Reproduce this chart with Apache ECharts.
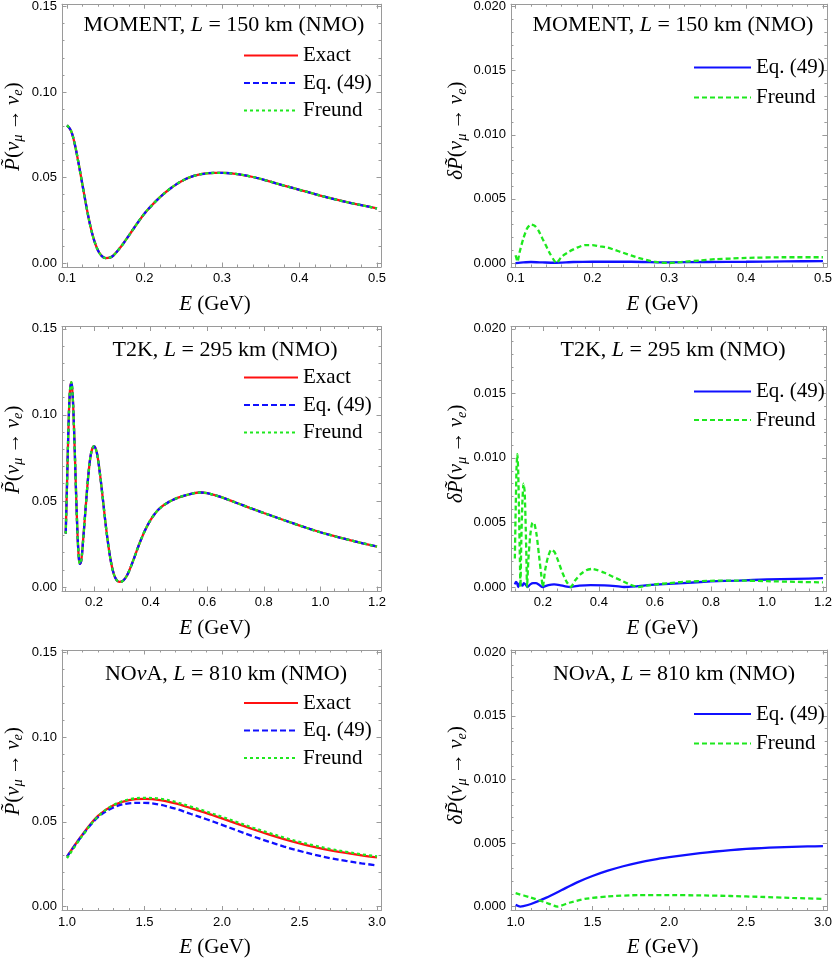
<!DOCTYPE html>
<html>
<head>
<meta charset="utf-8">
<script src="https://cdn.jsdelivr.net/npm/echarts@6/dist/echarts.min.js"></script>
<style>
  html, body { margin: 0; background: #fff; }
  #chart { width: 835px; height: 959px; }
</style>
</head>
<body>
<div id="chart"></div>
<script>
// ---- values (E in GeV) ----

// MOMENT, L = 150 km
const momentE = [0.100, 0.105, 0.110, 0.115, 0.120, 0.125, 0.130, 0.135, 0.140, 0.145, 0.150, 0.155, 0.160,
  0.170, 0.180, 0.190, 0.200, 0.210, 0.220, 0.230, 0.240, 0.250, 0.260, 0.270, 0.280, 0.290, 0.300,
  0.320, 0.340, 0.360, 0.380, 0.400, 0.420, 0.440, 0.460, 0.480, 0.500]
const momentExact = [0.0805, 0.0775, 0.0695, 0.0580, 0.0455, 0.0330, 0.0218, 0.0132, 0.0073, 0.0040, 0.0029, 0.0031, 0.0045,
  0.0098, 0.0162, 0.0228, 0.0290, 0.0340, 0.0385, 0.0424, 0.0457, 0.0484, 0.0504, 0.0517, 0.0524, 0.0527, 0.0527,
  0.0520, 0.0503, 0.0479, 0.0453, 0.0428, 0.0403, 0.0379, 0.0357, 0.0338, 0.0319]
const momentEq49 = momentExact // indistinguishable from Exact at this scale
const momentFreund = momentExact

const momentDiffEqE = [0.100, 0.110, 0.120, 0.135, 0.150, 0.175, 0.200, 0.250, 0.300, 0.350, 0.400, 0.450, 0.500]
const momentDiffEq = [0.00000, 0.00005, 0.00008, 0.00005, 0.00002, 0.00008, 0.00010, 0.00010, 0.00005, 0.00008, 0.00010, 0.00013, 0.00015]
const momentDiffFrE = [0.100, 0.1025, 0.105, 0.110, 0.115, 0.120, 0.125, 0.130, 0.135, 0.140, 0.145, 0.150, 0.153,
  0.160, 0.170, 0.180, 0.190, 0.200, 0.210, 0.220, 0.230, 0.240, 0.250, 0.260, 0.270, 0.280, 0.290, 0.300,
  0.310, 0.320, 0.340, 0.360, 0.380, 0.400, 0.450, 0.500]
const momentDiffFr = [0.0006, 0.0001, 0.0008, 0.0019, 0.0027, 0.0030, 0.0029, 0.0025, 0.0019, 0.0013, 0.0007, 0.0002, 0.0000,
  0.0005, 0.0009, 0.0012, 0.0014, 0.0014, 0.0013, 0.0012, 0.0010, 0.0008, 0.0006, 0.0004, 0.00025, 0.0001, 0.00003, 0.0000,
  0.00005, 0.0001, 0.0002, 0.0003, 0.00035, 0.0004, 0.00045, 0.00045]

// T2K, L = 295 km
const t2kE = [0.100, 0.105, 0.110, 0.115, 0.120, 0.125, 0.130, 0.135, 0.140, 0.145, 0.150, 0.155, 0.160,
  0.170, 0.180, 0.190, 0.200, 0.210, 0.220, 0.230, 0.240, 0.250, 0.260, 0.270, 0.280, 0.290, 0.300,
  0.310, 0.320, 0.340, 0.360, 0.380, 0.400, 0.420, 0.440, 0.460, 0.480, 0.500, 0.550, 0.575, 0.600, 0.650, 0.700, 0.750,
  0.800, 0.850, 0.900, 0.950, 1.000, 1.050, 1.100, 1.150, 1.200]
const t2kExact = [0.031, 0.062, 0.094, 0.114, 0.119, 0.110, 0.089, 0.063, 0.038, 0.020, 0.0135, 0.0155, 0.024,
  0.045, 0.065, 0.078, 0.0818, 0.078, 0.067, 0.053, 0.038, 0.025, 0.0145, 0.0075, 0.0040, 0.0030, 0.0033,
  0.0050, 0.0078, 0.0160, 0.0250, 0.0328, 0.0390, 0.0436, 0.0468, 0.0490, 0.0507, 0.0521, 0.0544, 0.0549, 0.0545, 0.0522, 0.0491, 0.0460,
  0.0430, 0.0401, 0.0372, 0.0344, 0.0318, 0.0295, 0.0274, 0.0254, 0.0235]
const t2kEq49 = t2kExact
const t2kFreund = t2kExact

const t2kDiffEqE = [0.100, 0.104, 0.108, 0.112, 0.117, 0.122, 0.127, 0.132, 0.138, 0.145, 0.155, 0.165, 0.175, 0.185,
  0.198, 0.220, 0.240, 0.260, 0.280, 0.300, 0.330, 0.370, 0.420, 0.460, 0.490, 0.530, 0.600, 0.700, 0.800, 0.900,
  1.000, 1.100, 1.200]
const t2kDiffEq = [0.0002, 0.0004, 0.0003, 0.0000, 0.0003, 0.0002, 0.0001, 0.0003, 0.0002, 0.0000, 0.0002, 0.0003, 0.0003, 0.0002,
  0.0000, 0.00015, 0.0002, 0.00015, 0.00005, 0.0000, 0.0001, 0.00015, 0.00013, 0.00007, 0.0000, 0.00005, 0.00018, 0.0003, 0.00043, 0.0005,
  0.00058, 0.00063, 0.00068]
const t2kDiffFrE = [0.100, 0.103, 0.106, 0.109, 0.112, 0.115, 0.118, 0.120, 0.123, 0.127, 0.131, 0.135, 0.139, 0.142, 0.1435,
  0.148, 0.155, 0.163, 0.170, 0.178, 0.186, 0.194, 0.200, 0.208, 0.218, 0.230, 0.242, 0.255, 0.270, 0.285, 0.300,
  0.315, 0.335, 0.355, 0.375, 0.395, 0.420, 0.450, 0.480, 0.510, 0.540, 0.570, 0.600, 0.650, 0.700, 0.800, 0.900,
  1.000, 1.100, 1.200]
const t2kDiffFr = [0.0022, 0.0060, 0.0092, 0.0103, 0.0090, 0.0058, 0.0022, 0.0000, 0.0035, 0.0066, 0.0080, 0.0074, 0.0045, 0.0015, 0.0000,
  0.0020, 0.0040, 0.0050, 0.0049, 0.0040, 0.0025, 0.0010, 0.0000, 0.0013, 0.0023, 0.0029, 0.0027, 0.0020, 0.0011, 0.0004, 0.0000,
  0.0005, 0.0010, 0.0013, 0.0014, 0.0013, 0.0011, 0.0008, 0.0005, 0.0002, 0.0000, 0.0001, 0.0002, 0.0003, 0.0004, 0.00048, 0.0005,
  0.00045, 0.0004, 0.00036]

// NOvA, L = 810 km
const novaE = [1.0, 1.1, 1.2, 1.3, 1.4, 1.5, 1.6, 1.7, 1.8, 1.9, 2.0, 2.1, 2.2, 2.3, 2.4, 2.5, 2.6, 2.7, 2.8, 2.9, 3.0]
const novaExact = [0.0295, 0.0425, 0.0535, 0.0598, 0.0628, 0.0635, 0.0628, 0.0608, 0.0580, 0.0551, 0.0520,
  0.0488, 0.0456, 0.0426, 0.0398, 0.0373, 0.0351, 0.0332, 0.0316, 0.0302, 0.0290]
const novaEq49 = [0.0294, 0.0422, 0.0527, 0.0584, 0.0609, 0.0612, 0.0601, 0.0577, 0.0546, 0.0515, 0.0482,
  0.0448, 0.0414, 0.0383, 0.0354, 0.0328, 0.0305, 0.0285, 0.0269, 0.0255, 0.0243]
const novaFreund = [0.0285, 0.0419, 0.0532, 0.0599, 0.0632, 0.0641, 0.0636, 0.0617, 0.0589, 0.0560, 0.0529,
  0.0497, 0.0465, 0.0435, 0.0407, 0.0381, 0.0359, 0.0339, 0.0323, 0.0308, 0.0296]

const novaDiffEqE = [1.00, 1.03, 1.05, 1.10, 1.20, 1.30, 1.40, 1.50, 1.60, 1.70, 1.80, 1.90, 2.00, 2.10, 2.20, 2.30,
  2.40, 2.50, 2.60, 2.70, 2.80, 2.90, 3.00]
const novaDiffEq = [0.00013, 0.0000, 0.00003, 0.0002, 0.0007, 0.0013, 0.0019, 0.0024, 0.00282, 0.00317, 0.00346, 0.00369, 0.00388,
  0.00405, 0.0042, 0.00433, 0.00444, 0.00453, 0.0046, 0.00466, 0.0047, 0.00473, 0.00475]
const novaDiffFrE = [1.00, 1.10, 1.20, 1.27, 1.35, 1.45, 1.60, 1.80, 2.00, 2.20, 2.40, 2.60, 2.80, 3.00]
const novaDiffFr = [0.00105, 0.0007, 0.0003, 0.0000, 0.0003, 0.0006, 0.0008, 0.0009, 0.0009, 0.00088, 0.00083, 0.00076, 0.00068, 0.0006]

// ---- tick positions and labels ----
const steps = (a, b, d) => {
  const out = []
  for (let v = a; v <= b + d / 2; v += d) out.push(+v.toFixed(4))
  return out
}
const probTicks = [0, 0.05, 0.1, 0.15]
const probMinor = steps(0, 0.15, 0.01)
const diffTicks = [0, 0.005, 0.01, 0.015, 0.02]
const diffMinor = steps(0, 0.02, 0.001)
const momentTicks = [0.1, 0.2, 0.3, 0.4, 0.5]
const momentMinor = steps(0.1, 0.5, 0.02)
const t2kTicks = [0.2, 0.4, 0.6, 0.8, 1.0, 1.2]
const t2kMinor = steps(0.1, 1.2, 0.05)
const novaTicks = [1.0, 1.5, 2.0, 2.5, 3.0]
const novaMinor = steps(1.0, 3.0, 0.1)

// ---- styling ----
const SERIF = '"Liberation Serif", "Times New Roman", serif'
const SANS = '"Liberation Sans", Arial, sans-serif'
const FRAME = '#9a9a9a'
const RED = '#ff1010'
const BLUE = '#1010ff'
const GREEN = '#1ee81e'

const MATH = {
  r: { fontFamily: SERIF, fontSize: 21, lineHeight: 26, color: '#000' },
  i: { fontFamily: SERIF, fontSize: 21, lineHeight: 26, fontStyle: 'italic', color: '#000' },
  s: { fontFamily: SERIF, fontSize: 14.5, lineHeight: 16, fontStyle: 'italic', color: '#000', verticalAlign: 'bottom' },
  // blank spacers: the axis titles sit a little off the frame's middle, as in the original
  g1: { fontSize: 20, lineHeight: 26, width: 18 },
  g2: { fontSize: 20, lineHeight: 26, width: 10 },
  gx: { fontSize: 20, lineHeight: 26, width: 13 },
}
const TITLE_RICH = {
  r: { fontFamily: SERIF, fontSize: 22, lineHeight: 22, fontWeight: 'normal', color: '#000' },
  i: { fontFamily: SERIF, fontSize: 22, lineHeight: 22, fontWeight: 'normal', fontStyle: 'italic', color: '#000' },
}

const xName = '{i|E}{r| (GeV)}{gx| }'
const pName = '{g1| }{i|P\u0303}{r|(}{i|ν}{s|μ}{r|\u2009→\u2009}{i|ν}{s|e}{r|)}'
const dName = '{g2| }{i|δP\u0303}{r|(}{i|ν}{s|μ}{r|\u2009→\u2009}{i|ν}{s|e}{r|)}'

const pair = (xs, ys) => xs.map((x, k) => [x, ys[k]])

const probY = { min: -0.00233, max: 0.15134, major: probTicks, minor: probMinor, digits: 2, name: pName, gap: 36 }
const diffY = { min: -0.00031, max: 0.02018, major: diffTicks, minor: diffMinor, digits: 3, name: dName, gap: 40 }

const panels = [
  {
    rect: [62, 3, 319, 264],
    x: { min: 0.0935, max: 0.5052, major: momentTicks, minor: momentMinor, digits: 1 },
    y: probY,
    title: { text: '{r|MOMENT, }{i|L}{r| = 150 km (NMO)}', cx: 224, cy: 24 },
    legend: { left: 243, top: 45, w: 54, gap: 6.5 },
    series: [
      { name: 'Exact', e: momentE, v: momentExact, color: RED, type: 'solid' },
      { name: 'Eq. (49)', e: momentE, v: momentEq49, color: BLUE, type: [6, 3] },
      { name: 'Freund', e: momentE, v: momentFreund, color: GREEN, type: [3, 3] },
    ],
  },
  {
    rect: [511, 3, 320, 264],
    x: { min: 0.094, max: 0.5051, major: momentTicks, minor: momentMinor, digits: 1 },
    y: diffY,
    title: { text: '{r|MOMENT, }{i|L}{r| = 150 km (NMO)}', cx: 673, cy: 24 },
    legend: { left: 693, top: 57, w: 57, gap: 9 },
    smooth: 0.2,
    series: [
      { name: 'Eq. (49)', e: momentDiffEqE, v: momentDiffEq, color: BLUE, type: 'solid' },
      { name: 'Freund', e: momentDiffFrE, v: momentDiffFr, color: GREEN, type: [5, 3] },
    ],
  },
  {
    rect: [62, 326.5, 319, 264.5],
    x: { min: 0.0869, max: 1.2141, major: t2kTicks, minor: t2kMinor, digits: 1 },
    y: probY,
    title: { text: '{r|T2K, }{i|L}{r| = 295 km (NMO)}', cx: 225, cy: 349 },
    legend: { left: 243, top: 367, w: 54, gap: 6.5 },
    series: [
      { name: 'Exact', e: t2kE, v: t2kExact, color: RED, type: 'solid' },
      { name: 'Eq. (49)', e: t2kE, v: t2kEq49, color: BLUE, type: [6, 3] },
      { name: 'Freund', e: t2kE, v: t2kFreund, color: GREEN, type: [3, 3] },
    ],
  },
  {
    rect: [511, 326.5, 320, 264.5],
    x: { min: 0.0863, max: 1.213, major: t2kTicks, minor: t2kMinor, digits: 1 },
    y: diffY,
    title: { text: '{r|T2K, }{i|L}{r| = 295 km (NMO)}', cx: 673, cy: 349 },
    legend: { left: 693, top: 381, w: 57, gap: 7.5 },
    smooth: 0.2,
    series: [
      { name: 'Eq. (49)', e: t2kDiffEqE, v: t2kDiffEq, color: BLUE, type: 'solid' },
      { name: 'Freund', e: t2kDiffFrE, v: t2kDiffFr, color: GREEN, type: [5, 3] },
    ],
  },
  {
    rect: [62, 650, 319, 264],
    x: { min: 0.9677, max: 3.0258, major: novaTicks, minor: novaMinor, digits: 1 },
    y: probY,
    title: { text: '{r|NO}{i|ν}{r|A, }{i|L}{r| = 810 km (NMO)}', cx: 226, cy: 673 },
    legend: { left: 243, top: 692.5, w: 54, gap: 6.5 },
    series: [
      { name: 'Exact', e: novaE, v: novaExact, color: RED, type: 'solid' },
      { name: 'Eq. (49)', e: novaE, v: novaEq49, color: BLUE, type: [6, 3] },
      { name: 'Freund', e: novaE, v: novaFreund, color: GREEN, type: [3, 3] },
    ],
  },
  {
    rect: [511, 650, 320, 264],
    x: { min: 0.9698, max: 3.0277, major: novaTicks, minor: novaMinor, digits: 1 },
    y: diffY,
    title: { text: '{r|NO}{i|ν}{r|A, }{i|L}{r| = 810 km (NMO)}', cx: 674, cy: 673 },
    legend: { left: 693, top: 703.5, w: 57, gap: 8.4 },
    smooth: 0.2,
    series: [
      { name: 'Eq. (49)', e: novaDiffEqE, v: novaDiffEq, color: BLUE, type: 'solid' },
      { name: 'Freund', e: novaDiffFrE, v: novaDiffFr, color: GREEN, type: [5, 3] },
    ],
  },
]

// Mathematica-style frame: ticks point inward on all four sides, labels only
// bottom/left. Each side is one axis for major ticks and one for minor ticks.
function frameAxes(dim, gi, a) {
  const near = dim === 'x' ? 'bottom' : 'left'
  const far = dim === 'x' ? 'top' : 'right'
  const base = { type: 'value', gridIndex: gi, min: a.min, max: a.max, splitLine: { show: false }, silent: true }
  const line = show => ({ show, onZero: false, lineStyle: { color: FRAME, width: 1 } })
  const ticks = (vals, len) => ({ show: true, inside: true, length: len, customValues: vals, lineStyle: { color: FRAME, width: 1 } })
  const main = {
    ...base, position: near, axisLine: line(true), axisTick: ticks(a.major, 4.5),
    axisLabel: {
      show: true, customValues: a.major, formatter: v => v.toFixed(a.digits),
      margin: 5, color: '#000', fontFamily: SANS, fontSize: 13,
    },
  }
  if (dim === 'x') {
    Object.assign(main, { name: xName, nameLocation: 'middle', nameGap: 24, nameTextStyle: { rich: MATH } })
  } else {
    Object.assign(main, {
      name: a.name, nameLocation: 'middle', nameGap: a.gap, nameRotate: 90,
      nameTextStyle: { rich: MATH },
    })
  }
  return [
    main,
    { ...base, position: near, axisLine: line(false), axisTick: ticks(a.minor, 2.5), axisLabel: { show: false } },
    { ...base, position: far, axisLine: line(true), axisTick: ticks(a.major, 4.5), axisLabel: { show: false } },
    { ...base, position: far, axisLine: line(false), axisTick: ticks(a.minor, 2.5), axisLabel: { show: false } },
  ]
}

const option = { animation: false, grid: [], xAxis: [], yAxis: [], series: [], title: [], legend: [] }

panels.forEach((p, i) => {
  option.grid.push({ left: p.rect[0], top: p.rect[1], width: p.rect[2], height: p.rect[3] })
  option.xAxis.push(...frameAxes('x', i, p.x))
  option.yAxis.push(...frameAxes('y', i, p.y))
  option.title.push({
    text: p.title.text, left: p.title.cx, top: p.title.cy - 10, textAlign: 'center', padding: 0,
    textStyle: { fontWeight: 'normal', rich: TITLE_RICH },
  })
  // series names carry a panel suffix so each legend picks up its own line style
  const names = p.series.map(s => s.name + '#' + i)
  option.legend.push({
    data: names, orient: 'vertical', left: p.legend.left, top: p.legend.top, padding: 0,
    itemWidth: p.legend.w, itemHeight: 10, itemGap: p.legend.gap, selectedMode: false,
    itemStyle: { opacity: 0 },
    formatter: n => n.split('#')[0],
    textStyle: { fontFamily: SERIF, fontSize: 21, lineHeight: 20, color: '#000' },
  })
  p.series.forEach((s, k) => {
    option.series.push({
      name: names[k], type: 'line', xAxisIndex: 4 * i, yAxisIndex: 4 * i,
      data: pair(s.e, s.v), symbol: 'none', smooth: p.smooth ?? 0.35,
      color: s.color, itemStyle: { color: s.color },
      lineStyle: { color: s.color, width: 2.3, type: s.type },
      z: 2 + k, silent: true,
    })
  })
})

const chart = echarts.init(document.getElementById('chart'), null, { renderer: 'canvas' })
chart.setOption(option)
</script>
</body>
</html>
